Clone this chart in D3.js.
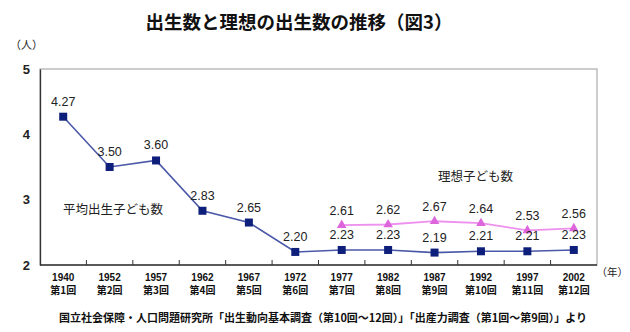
<!DOCTYPE html>
<html>
<head>
<meta charset="utf-8">
<script src="https://cdn.jsdelivr.net/npm/d3@7"></script>
<style>
  body { margin: 0; background: #fff; }
  svg { display: block; font-family: "Liberation Sans", "Noto Sans CJK JP", sans-serif; }
</style>
</head>
<body>
<div id="chart"></div>
<script>
const years = ["1940", "1952", "1957", "1962", "1967", "1972", "1977", "1982", "1987", "1992", "1997", "2002"];
const rounds = ["第1回", "第2回", "第3回", "第4回", "第5回", "第6回", "第7回", "第8回", "第9回", "第10回", "第11回", "第12回"];
const actual = [4.27, 3.50, 3.60, 2.83, 2.65, 2.20, 2.23, 2.23, 2.19, 2.21, 2.21, 2.23];
const idealYears = ["1977", "1982", "1987", "1992", "1997", "2002"];
const ideal = [2.61, 2.62, 2.67, 2.64, 2.53, 2.56];
const yTicks = [2, 3, 4, 5];

const width = 630, height = 332;
const plotLeft = 40, plotRight = 597, plotTop = 69, plotBottom = 265;
const jp = "'Noto Sans CJK JP', sans-serif";

const svg = d3.select("#chart").append("svg")
  .attr("width", width)
  .attr("height", height);

let xScale = d3.scaleBand().domain(years).range([plotLeft, plotRight]);
let yScale = d3.scaleLinear().domain([2, 5]).range([plotBottom, plotTop]);
const cx = (y) => xScale(y) + xScale.bandwidth() / 2;

// title
svg.append("text")
  .attr("x", 299).attr("y", 29)
  .attr("text-anchor", "middle")
  .style("font-family", jp)
  .style("font-weight", "bold")
  .style("font-size", "18.5px")
  .attr("fill", "#111")
  .text("出生数と理想の出生数の推移（図3）");

svg.append("text")
  .attr("x", 10).attr("y", 49)
  .style("font-family", jp)
  .style("font-size", "11px")
  .attr("fill", "#222")
  .text("（人）");

// plot frame: light top/right, dark axes
svg.append("rect")
  .attr("x", plotLeft).attr("y", plotTop)
  .attr("width", plotRight - plotLeft).attr("height", plotBottom - plotTop)
  .attr("fill", "none").attr("stroke", "#9a9a9a").attr("stroke-width", 1);

let yAxis = d3.axisLeft(yScale).tickValues(yTicks).tickSize(0).tickPadding(10).tickFormat(d3.format("d"));
const gy = svg.append("g").attr("transform", "translate(" + plotLeft + ",0)").call(yAxis);
gy.select(".domain").attr("stroke", "#333").attr("stroke-width", 1.3);
gy.selectAll("text").style("font-size", "13px").style("font-weight", "bold").attr("fill", "#222");

const gx = svg.append("g").attr("transform", "translate(0," + plotBottom + ")");
gx.append("line").attr("x1", plotLeft).attr("x2", plotRight).attr("stroke", "#333").attr("stroke-width", 1.3);
gx.selectAll("line.tick")
  .data(years.slice(1))
  .enter().append("line")
  .attr("class", "tick")
  .attr("x1", (d) => xScale(d)).attr("x2", (d) => xScale(d))
  .attr("y1", 0).attr("y2", -5)
  .attr("stroke", "#333");

const xl = gx.selectAll("g.lbl")
  .data(years)
  .enter().append("g")
  .attr("class", "lbl")
  .attr("transform", (d) => "translate(" + cx(d) + ",0)");
xl.append("text")
  .attr("y", 16).attr("text-anchor", "middle")
  .style("font-size", "10px").style("font-weight", "bold").attr("fill", "#111")
  .text((d) => d);
xl.append("text")
  .attr("y", 29).attr("text-anchor", "middle")
  .style("font-family", jp).style("font-size", "10px").style("font-weight", "bold").attr("fill", "#111")
  .text((d, i) => rounds[i]);

svg.append("text")
  .attr("x", 628).attr("y", 276)
  .attr("text-anchor", "end")
  .style("font-family", jp).style("font-size", "10.5px").attr("fill", "#222")
  .text("（年）");

// ideal number of children (pink)
const pink = svg.append("g");
pink.append("path")
  .datum(ideal)
  .attr("fill", "none").attr("stroke", "#ee90ee").attr("stroke-width", 1.8)
  .attr("d", d3.line().x((d, i) => cx(idealYears[i])).y((d) => yScale(d)));
pink.selectAll("path.mk")
  .data(ideal)
  .enter().append("path")
  .attr("class", "mk")
  .attr("d", d3.symbol().type(d3.symbolTriangle).size(40))
  .attr("transform", (d, i) => "translate(" + cx(idealYears[i]) + "," + yScale(d) + ")")
  .attr("fill", "#dd66dd");
pink.selectAll("text")
  .data(ideal)
  .enter().append("text")
  .attr("x", (d, i) => cx(idealYears[i]))
  .attr("y", (d) => yScale(d) - 10)
  .attr("text-anchor", "middle")
  .style("font-size", "12.5px").attr("fill", "#222")
  .text((d) => d.toFixed(2));

// actual births (navy)
const navy = svg.append("g");
navy.append("path")
  .datum(actual)
  .attr("fill", "none").attr("stroke", "#4a58a8").attr("stroke-width", 1.6)
  .attr("d", d3.line().x((d, i) => cx(years[i])).y((d) => yScale(d)));
navy.selectAll("rect")
  .data(actual)
  .enter().append("rect")
  .attr("x", (d, i) => cx(years[i]) - 4)
  .attr("y", (d) => yScale(d) - 4)
  .attr("width", 8).attr("height", 8)
  .attr("fill", "#0d1f7a");
navy.selectAll("text")
  .data(actual)
  .enter().append("text")
  .attr("x", (d, i) => cx(years[i]))
  .attr("y", (d) => yScale(d) - 11)
  .attr("text-anchor", "middle")
  .style("font-size", "12.5px").attr("fill", "#222")
  .text((d) => d.toFixed(2));

// series names
svg.append("text")
  .attr("x", 63).attr("y", 214)
  .style("font-family", jp).style("font-size", "12.5px").attr("fill", "#222")
  .text("平均出生子ども数");
svg.append("text")
  .attr("x", 438).attr("y", 181)
  .style("font-family", jp).style("font-size", "12.5px").attr("fill", "#222")
  .text("理想子ども数");

// source note
svg.append("text")
  .attr("x", 323).attr("y", 322)
  .attr("text-anchor", "middle")
  .style("font-family", jp).style("font-size", "11px").style("font-weight", "bold").attr("fill", "#111")
  .text("国立社会保障・人口問題研究所「出生動向基本調査（第10回～12回）」「出産力調査（第1回～第9回）」より");
</script>
</body>
</html>
